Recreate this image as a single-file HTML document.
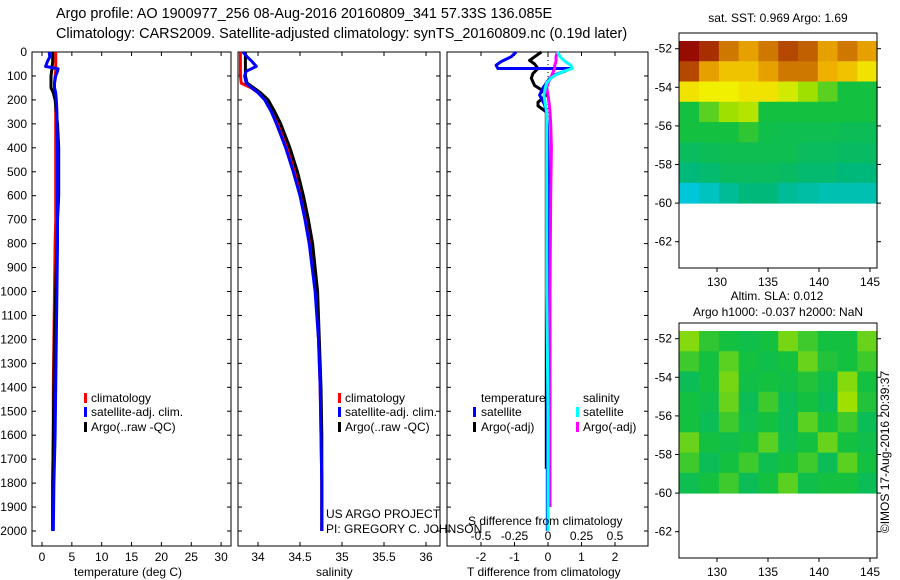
<!DOCTYPE html>
<html><head><meta charset="utf-8"><style>
body{margin:0;background:#fff;}
svg{display:block;font-family:"Liberation Sans",sans-serif;}
</style></head><body>
<svg id="fig" width="900" height="580" viewBox="0 0 900 580">
<text x="56" y="18" font-size="14.4">Argo profile: AO 1900977_256 08-Aug-2016 20160809_341 57.33S 136.085E</text>
<text x="56" y="38" font-size="14.4">Climatology: CARS2009. Satellite-adjusted climatology: synTS_20160809.nc (0.19d later)</text>
</svg>
<script>
const depths=[0,20,40,60,70,80,100,130,150,170,200,250,300,400,500,600,700,800,1000,1200,1400,1600,1800,2000];
const tempClim=[2.3,2.3,2.3,2.3,2.3,2.3,2.2,2.1,2.1,2.2,2.3,2.3,2.3,2.3,2.3,2.3,2.3,2.2,2.1,2.0,1.9,1.9,1.8,1.8];
const tempSat=[1.2,1.3,0.9,0.6,2.7,2.6,2.3,2.1,2.1,2.3,2.4,2.5,2.5,2.6,2.6,2.6,2.6,2.6,2.5,2.4,2.3,2.2,2.0,1.9];
const tempArgo=[1.8,1.8,1.8,1.7,1.7,1.6,1.5,1.5,1.5,1.9,2.2,2.4,2.6,2.8,2.8,2.8,2.6,2.5,2.3,2.1,2.0,1.9,1.8,1.8];
const salClim=[33.79,33.79,33.79,33.79,33.79,33.79,33.79,33.80,33.92,34.0,34.1,34.18,34.24,34.35,34.44,34.51,34.57,34.62,34.69,34.72,34.74,34.75,34.76,34.76];
const salSat=[33.82,33.87,33.93,33.98,33.92,33.86,33.84,33.86,33.93,34.0,34.08,34.16,34.22,34.33,34.42,34.5,34.56,34.61,34.68,34.72,34.74,34.75,34.76,34.76];
const salArgo=[33.85,33.85,33.85,33.85,33.85,33.85,33.85,33.87,33.95,34.03,34.12,34.2,34.27,34.38,34.47,34.54,34.6,34.65,34.71,34.73,34.75,34.76,34.76,34.76];
const dDepth=[0,20,40,55,69,69,80,95,110,130,150,180,220,250,300,400,600,1000,1500,2000];
const dTSat=[-0.95,-1.1,-1.4,-1.55,-1.5,0.65,0.5,0.2,0.05,-0.05,-0.15,-0.25,-0.1,-0.05,-0.02,0,0,-0.02,-0.02,-0.02];
const dSSat=[0.07,0.09,0.13,0.17,0.18,0.18,0.12,0.06,0.02,-0.01,-0.02,-0.03,-0.02,-0.01,-0.01,-0.01,-0.01,-0.01,0,0];
const dSArgo=[0.07,0.06,0.06,0.05,0.05,0.05,0.04,0.03,0.02,0.0,-0.01,0.0,0.01,0.015,0.02,0.025,0.02,0.015,0.015,0.015];
const dArgoDepth=[0,20,35,50,69,90,110,140,158,180,210,225,250,400,1000,1740];
const dTArgo=[-0.2,-0.4,-0.55,-0.4,-0.3,-0.45,-0.5,-0.4,-0.2,-0.05,-0.3,-0.3,-0.05,-0.05,-0.05,-0.05];
const depthTicks=[0,100,200,300,400,500,600,700,800,900,1000,1100,1200,1300,1400,1500,1600,1700,1800,1900,2000];
const tempTicks=[0,5,10,15,20,25,30];
const salTicks=[34,34.5,35,35.5,36];
const dTTicks=[-2,-1,0,1,2];
const dSTicks=[-0.5,-0.25,0,0.25,0.5];
const latTicks=[-52,-54,-56,-58,-60,-62];
const lonTicks=[130,135,140,145];
const sstGrid=[
[0.95,0.92,0.85,0.8,0.85,0.9,0.88,0.8,0.85,0.8],
[0.9,0.8,0.75,0.75,0.8,0.85,0.85,0.78,0.75,0.7],
[0.7,0.68,0.68,0.7,0.7,0.65,0.6,0.55,0.5,0.5],
[0.5,0.55,0.6,0.62,0.5,0.5,0.5,0.5,0.5,0.5],
[0.5,0.5,0.5,0.52,0.48,0.47,0.47,0.47,0.46,0.46],
[0.45,0.46,0.47,0.47,0.47,0.47,0.45,0.45,0.44,0.44],
[0.4,0.42,0.45,0.45,0.45,0.44,0.42,0.42,0.4,0.4],
[0.33,0.35,0.38,0.4,0.4,0.38,0.37,0.36,0.36,0.36]];
const slaGrid=[
[0.58,0.52,0.5,0.48,0.5,0.57,0.53,0.5,0.5,0.56],
[0.53,0.5,0.55,0.5,0.48,0.5,0.56,0.51,0.5,0.53],
[0.46,0.5,0.57,0.49,0.5,0.49,0.51,0.48,0.58,0.5],
[0.5,0.48,0.56,0.46,0.53,0.46,0.5,0.46,0.6,0.51],
[0.5,0.46,0.53,0.47,0.5,0.46,0.55,0.5,0.53,0.46],
[0.56,0.5,0.48,0.5,0.55,0.47,0.5,0.56,0.5,0.48],
[0.53,0.46,0.5,0.53,0.47,0.5,0.53,0.46,0.55,0.5],
[0.47,0.5,0.53,0.46,0.5,0.55,0.48,0.5,0.5,0.46]];

const NS='http://www.w3.org/2000/svg';
const svg=document.getElementById('fig');
function mk(tag,at,par){const e=document.createElementNS(NS,tag);for(const k in at)e.setAttribute(k,at[k]);(par||svg).appendChild(e);return e;}
const yD=d=>52+d*0.2395;
const xT=v=>42+v*5.97;
const xS=v=>258+(v-34)*84;
const xDT=v=>548+v*33.5;
const xDS=v=>548+v*134;
const xLon=l=>717+(l-130)*10.2;
const yLat=(la,off)=>48.7+(-52-la)*19.3+off;

function line(xs,ds,xf,col,name){
  const p=xs.map((v,i)=>xf(v).toFixed(1)+','+yD(ds[i]).toFixed(1)).join(' ');
  const el=mk('polyline',{points:p,fill:'none',stroke:col,'stroke-width':3,'stroke-linejoin':'round'});
  
  
}
function frame(x0,x1,name){
  const r=mk('rect',{x:x0,y:52,width:x1-x0,height:494,fill:'none',stroke:'#000','stroke-width':1});
  
  
  depthTicks.forEach(d=>{mk('line',{x1:x0,x2:x0+4,y1:yD(d),y2:yD(d),stroke:'#000'});mk('line',{x1:x1,x2:x1-4,y1:yD(d),y2:yD(d),stroke:'#000'});});
}
function xticks(ticks,xf,x0,x1,name){
  ticks.forEach(t=>{mk('line',{x1:xf(t),x2:xf(t),y1:546,y2:542,stroke:'#000'});mk('line',{x1:xf(t),x2:xf(t),y1:52,y2:56,stroke:'#000'});
    const tx=mk('text',{x:xf(t),y:561,'font-size':12,'text-anchor':'middle'});tx.textContent=String(t);
    
    });
}
function txt(x,y,s,name,sz,anchor){const t=mk('text',{x:x,y:y,'font-size':sz||12,'text-anchor':anchor||'start'});t.textContent=s;
  
  return t;}
function legMark(x,y,col,name){const r=mk('rect',{x:x,y:y-9,width:3,height:10,fill:col});
  
  }

frame(32,231,'temperature-axes');
depthTicks.forEach(d=>{txt(27,yD(d)+4,String(d),'depth-tick-label',12,'end');});
xticks(tempTicks,xT,32,231,'temperature-tick-label');
line(tempClim,depths,xT,'#ff0000','temperature-climatology-line');
line(tempArgo,depths,xT,'#000000','temperature-argo-line');
line(tempSat,depths,xT,'#0000ff','temperature-satellite-line');
txt(74,576,'temperature (deg C)','temperature-axis-title');
legMark(84,402,'#ff0000','legend-climatology-mark');txt(91,402,'climatology','legend-climatology');
legMark(84,416,'#0000ff','legend-satellite-mark');txt(91,416,'satellite-adj. clim.','legend-satellite');
legMark(84,431,'#000','legend-argo-mark');txt(91,431,'Argo(..raw -QC)','legend-argo');

frame(238,440,'salinity-axes');
xticks(salTicks,xS,238,440,'salinity-tick-label');
line(salClim,depths,xS,'#ff0000','salinity-climatology-line');
line(salArgo,depths,xS,'#000000','salinity-argo-line');
line(salSat,depths,xS,'#0000ff','salinity-satellite-line');
txt(316,576,'salinity','salinity-axis-title');
legMark(338,402,'#ff0000','legend2-climatology-mark');txt(345,402,'climatology','legend2-climatology');
legMark(338,416,'#0000ff','legend2-satellite-mark');txt(345,416,'satellite-adj. clim.','legend2-satellite');
legMark(338,431,'#000','legend2-argo-mark');txt(345,431,'Argo(..raw -QC)','legend2-argo');
txt(326,518,'US ARGO PROJECT','project-credit');
txt(326,533,'PI: GREGORY C. JOHNSON','pi-credit');

frame(447,648,'difference-axes');
xticks(dTTicks,xDT,447,648,'t-diff-tick-label');
mk('line',{x1:548,x2:548,y1:52,y2:200,stroke:'#000','stroke-dasharray':'1,3'});
line(dTArgo,dArgoDepth,xDT,'#000000','t-diff-argo-line');
line(dTSat,dDepth,xDT,'#0000ff','t-diff-satellite-line');
line(dSArgo.slice(0,19),dDepth.slice(0,19).map((d,i)=>i==18?1900:d),xDS,'#ff00ff','s-diff-argo-line');
line(dSSat,dDepth,xDS,'#00ffff','s-diff-satellite-line');
txt(468,525,'S difference from climatology','s-diff-axis-title');
dSTicks.forEach(t=>txt(xDS(t),540,String(t),'s-diff-tick-label',12,'middle'));
txt(467,576,'T difference from climatology','t-diff-axis-title');
txt(481,402,'temperature','legend3-temperature-header');
legMark(473,416,'#0000ff','legend3-t-satellite-mark');txt(481,416,'satellite','legend3-t-satellite');
legMark(473,431,'#000','legend3-t-argo-mark');txt(481,431,'Argo(-adj)','legend3-t-argo');
txt(583,402,'salinity','legend3-salinity-header');
legMark(576,416,'#00ffff','legend3-s-satellite-mark');txt(583,416,'satellite','legend3-s-satellite');
legMark(576,431,'#ff00ff','legend3-s-argo-mark');txt(583,431,'Argo(-adj)','legend3-s-argo');

const stops=[[0.25,[0,96,255]],[0.32,[0,200,232]],[0.4,[0,184,122]],[0.5,[20,192,64]],[0.6,[160,224,0]],[0.68,[240,240,0]],[0.78,[240,176,0]],[0.88,[192,96,0]],[0.96,[144,0,0]]];
function cmap(v){if(v<=stops[0][0])return 'rgb('+stops[0][1]+')';
  for(let i=1;i<stops.length;i++){if(v<=stops[i][0]){const a=stops[i-1],b=stops[i],f=(v-a[0])/(b[0]-a[0]);
    return 'rgb('+a[1].map((c,k)=>Math.round(c+(b[1][k]-c)*f)).join(',')+')';}}
  return 'rgb('+stops[stops.length-1][1]+')';}

function map(grid,off,name){
  const lon0=126.3,lon1=145.7,lat0=-51.6,lat1=-60;
  const nr=grid.length,nc=grid[0].length;
  grid.forEach((row,r)=>row.forEach((v,c)=>{
    const la=lat0+(lat1-lat0)*r/nr,lb=lat0+(lat1-lat0)*(r+1)/nr;
    const lo=lon0+(lon1-lon0)*c/nc,lp=lon0+(lon1-lon0)*(c+1)/nc;
    const x=xLon(lo),y=yLat(la,off);
    const el=mk('rect',{x:x,y:y,width:xLon(lp)-x+0.5,height:yLat(lb,off)-y+0.5,fill:cmap(v)});
    
    
  }));
  const fr=mk('rect',{x:679,y:33+off,width:198,height:235,fill:'none',stroke:'#000'});
  
  
  latTicks.forEach(l=>{mk('line',{x1:679,x2:675,y1:yLat(l,off),y2:yLat(l,off),stroke:'#000'});mk('line',{x1:877,x2:881,y1:yLat(l,off),y2:yLat(l,off),stroke:'#000'});
    txt(672,yLat(l,off)+4,String(l),name+'-lat-label',12,'end');});
  lonTicks.forEach(l=>{mk('line',{x1:xLon(l),x2:xLon(l),y1:268+off,y2:272+off,stroke:'#000'});
    txt(xLon(l),286+off,String(l),name+'-lon-label',12,'middle');});
}
map(sstGrid,0,'sst-map');
map(slaGrid,290,'sla-map');
txt(778,22,'sat. SST: 0.969 Argo: 1.69','sst-map-title',12,'middle');
txt(777,300,'Altim. SLA: 0.012','sla-map-title',12,'middle');
txt(778,316,'Argo h1000: -0.037 h2000: NaN','sla-map-subtitle',12,'middle');
const st=txt(0,0,'©IMOS 17-Aug-2016 20:39:37','timestamp',12,'middle');
st.setAttribute('transform','translate(889,452) rotate(-90)');
</script>
</body></html>
